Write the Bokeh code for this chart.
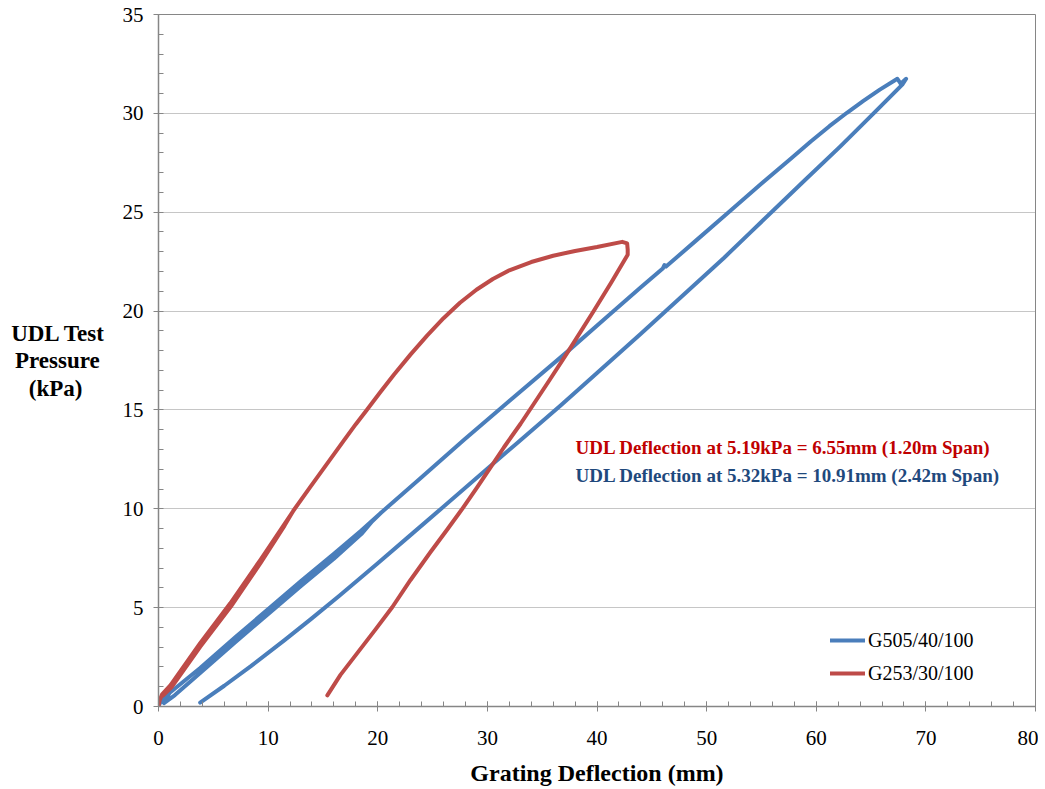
from bokeh.plotting import figure
from bokeh.models import Label, Legend, LegendItem, Range1d, FixedTicker, Axis
from bokeh.embed import file_html
from bokeh.resources import INLINE

# ---- data ----
blue_x = [0.0, 0.2, 1.0, 3.8, 7.0, 10.2, 13.0, 16.0, 18.5, 20.3,
          19.5, 18.5, 16.0, 13.0, 10.2, 7.0, 3.8, 1.5, 0.5,
          1.0, 3.8, 7.0, 10.2, 13.0, 16.0, 18.5, 20.3,
          24.0, 27.9, 32.0, 37.3, 41.0, 44.0, 46.0, 46.15, 46.3,
          49.0, 51.9, 54.8, 57.7, 59.5, 61.2, 62.8, 64.3, 65.8, 67.4, 67.7, 68.2, 67.85,
          65.3, 62.2, 59.0, 56.1, 54.0, 51.6, 47.3, 44.0, 40.0,
          36.68, 32.7, 29.99, 25.73, 22.8, 19.95, 16.5, 13.9, 11.5, 8.4, 6.0, 3.8]
blue_y = [0.0, 0.25, 0.68, 1.95, 3.5, 5.02, 6.35, 7.72, 8.9, 9.8,
          9.37, 8.72, 7.47, 6.1, 4.77, 3.25, 1.7, 0.58, 0.17,
          0.68, 1.95, 3.5, 5.02, 6.35, 7.72, 8.9, 9.8,
          11.6, 13.5, 15.45, 17.95, 19.75, 21.2, 22.15, 22.33, 22.25,
          23.55, 24.95, 26.35, 27.72, 28.58, 29.35, 30.03, 30.63, 31.2, 31.75, 31.5, 31.75, 31.45,
          30.04, 28.33, 26.64, 25.1, 23.98, 22.7, 20.52, 18.85, 16.87,
          15.22, 13.32, 12.03, 9.98, 8.58, 7.22, 5.6, 4.42, 3.36, 2.03, 1.05, 0.2]

red_x = [0.0, 0.1, 0.33, 1.1, 3.8, 6.55, 9.3, 12.3,
         11.5, 9.3, 6.6, 3.8, 1.2, 0.4,
         1.1, 3.8, 6.55, 9.3, 12.3, 13.9, 15.4, 16.9, 18.0, 19.0, 20.26, 21.47,
         23.0, 24.5, 26.0, 27.5, 29.0, 30.5, 32.0, 34.0, 36.0, 38.0, 40.0,
         42.3, 42.75, 42.8, 42.8,
         41.3, 39.7, 37.3, 35.6, 33.94, 33.03, 31.5, 30.29, 29.08, 27.71,
         26.34, 24.8, 22.99, 21.32, 19.8, 18.13, 16.6, 15.4]
red_y = [0.0, 0.3, 0.62, 1.08, 3.2, 5.22, 7.42, 9.9,
         9.15, 7.25, 5.05, 3.02, 0.98, 0.55,
         1.08, 3.2, 5.22, 7.42, 9.9, 11.15, 12.3, 13.45, 14.28, 15.0, 15.92, 16.78,
         17.81, 18.76, 19.64, 20.42, 21.08, 21.62, 22.06, 22.48, 22.8, 23.04, 23.24,
         23.5, 23.42, 23.1, 22.85,
         21.45, 20.0, 17.9, 16.45, 15.06, 14.3, 13.1, 12.1, 11.1, 10.0,
         8.95, 7.8, 6.4, 5.02, 3.9, 2.7, 1.6, 0.56]

series_names = ["G505/40/100", "G253/30/100"]
x_ticks = [0, 10, 20, 30, 40, 50, 60, 70, 80]
y_ticks = [0, 5, 10, 15, 20, 25, 30, 35]
note_red = "UDL Deflection at 5.19kPa = 6.55mm (1.20m Span)"
note_blue = "UDL Deflection at 5.32kPa = 10.91mm (2.42m Span)"
x_title = "Grating Deflection (mm)"
y_title_lines = ["UDL Test", "Pressure", "(kPa)"]

BLUE = "#4A7EBB"
RED = "#BE4B48"
AXIS = "#868686"
FONT = "Liberation Serif"

p = figure(width=1038, height=789, output_backend="svg", toolbar_location=None,
           x_range=Range1d(0, 80), y_range=Range1d(0, 35),
           min_border_left=158, min_border_right=3, min_border_top=14,
           min_border_bottom=83)
p.background_fill_color = "white"
p.border_fill_color = "white"
p.outline_line_color = AXIS
p.outline_line_width = 1

rb = p.line(blue_x, blue_y, line_color=BLUE, line_width=4, line_join="round", line_cap="round")
rr = p.line(red_x, red_y, line_color=RED, line_width=4, line_join="round", line_cap="round")

# axes
for ax in (p.xaxis[0], p.yaxis[0]):
    ax.axis_line_color = AXIS
    ax.axis_line_width = 1.5
    ax.major_tick_line_color = AXIS
    ax.minor_tick_line_color = AXIS
    ax.major_label_text_font = FONT
    ax.major_label_text_font_size = "21px"
    ax.major_label_text_color = "black"

p.xaxis.ticker = FixedTicker(ticks=x_ticks, minor_ticks=[i * 2 for i in range(41)])
p.yaxis.ticker = FixedTicker(ticks=y_ticks, minor_ticks=list(range(36)))
p.xaxis.major_tick_in = 5
p.xaxis.major_tick_out = 5
p.xaxis.minor_tick_in = 5
p.xaxis.minor_tick_out = 0
p.xaxis.major_label_standoff = 19
p.yaxis.major_tick_in = 0
p.yaxis.major_tick_out = 5
p.yaxis.minor_tick_in = 5
p.yaxis.minor_tick_out = 0
p.yaxis.major_label_standoff = 10

p.xaxis.axis_label = x_title
p.xaxis.axis_label_text_font = FONT
p.xaxis.axis_label_text_font_style = "bold"
p.xaxis.axis_label_text_font_size = "24px"
p.xaxis.axis_label_text_color = "black"
p.xaxis.axis_label_standoff = 12

# grid
p.xgrid.visible = False
p.ygrid.grid_line_color = "#8C8C8C"
p.ygrid.grid_line_dash = "1 1"
p.ygrid.grid_line_width = 1

# y title: horizontal multi-line (lines are right-aligned by bokeh, so pad
# the shorter lines with no-break spaces to centre them visually)
NB = "\u00a0"
y_title = "\n".join([y_title_lines[0], y_title_lines[1] + NB, y_title_lines[2] + NB * 4])
if "axis_label_orientation" in Axis.properties():
    p.yaxis.axis_label = y_title
    p.yaxis.axis_label_orientation = "horizontal"
    p.yaxis.axis_label_text_font = FONT
    p.yaxis.axis_label_text_font_style = "bold"
    p.yaxis.axis_label_text_font_size = "23px"
    p.yaxis.axis_label_text_color = "black"
    p.yaxis.axis_label_text_line_height = 1.1
    p.yaxis.axis_label_standoff = 14
else:
    p.add_layout(Label(x=-100, y=345, x_units="screen", y_units="screen",
                       text="\n".join(y_title_lines),
                       text_font=FONT, text_font_style="bold", text_font_size="23px",
                       text_align="center", text_baseline="middle", text_color="black"))

# annotations
p.add_layout(Label(x=38.04, y=13.1, text=note_red, text_font=FONT, text_font_style="bold",
                   text_font_size="19px", text_baseline="middle", text_color="#C00000"))
p.add_layout(Label(x=38.04, y=11.68, text=note_blue, text_font=FONT, text_font_style="bold",
                   text_font_size="19px", text_baseline="middle", text_color="#1F497D"))

legend = Legend(items=[LegendItem(label=series_names[0], renderers=[rb]),
                       LegendItem(label=series_names[1], renderers=[rr])],
                location=(672, 18), orientation="vertical")
legend.border_line_color = None
legend.background_fill_alpha = 0
legend.padding = 0
legend.margin = 0
legend.spacing = 3
legend.glyph_width = 35
legend.glyph_height = 30
legend.label_height = 30
legend.label_standoff = 3
legend.label_text_font = FONT
legend.label_text_font_size = "20px"
legend.label_text_color = "black"
p.add_layout(legend, "center")

open("out.html", "w").write(file_html(p, INLINE))
